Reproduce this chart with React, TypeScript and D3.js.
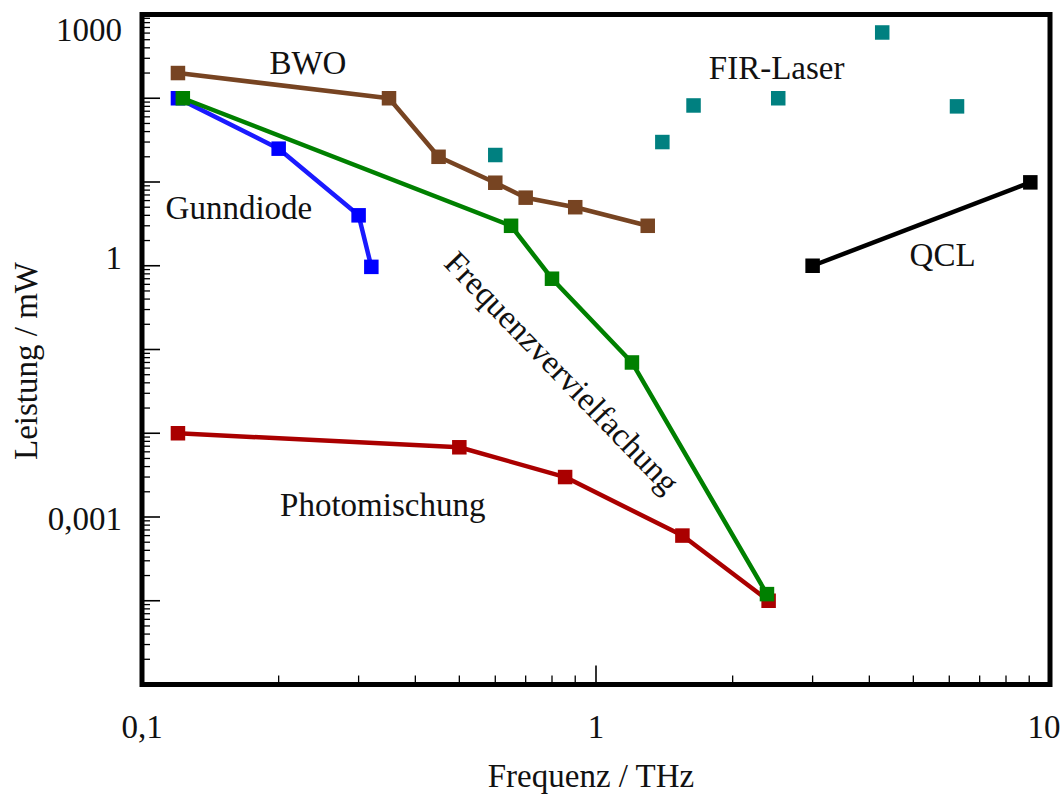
import React from "react";
import * as d3 from "d3";

// ---------- data ----------
const gunnFreq = [0.12, 0.2, 0.3, 0.32];
const gunnPower = [100, 25, 4, 0.97];

const bwoFreq = [0.12, 0.35, 0.45, 0.6, 0.7, 0.9, 1.3];
const bwoPower = [200, 100, 20, 9.8, 6.5, 5, 3];

const photoFreq = [0.12, 0.5, 0.855, 1.55, 2.4];
const photoPower = [0.01, 0.0068, 0.003, 0.0006, 0.0001];

const multFreq = [0.123, 0.65, 0.8, 1.2, 2.38];
const multPower = [100, 3, 0.7, 0.07, 0.00012];

const firFreq = [0.6, 1.4, 1.64, 2.52, 4.27, 6.24];
const firPower = [21, 30, 82, 100, 610, 80];

const qclFreq = [3, 9.05];
const qclPower = [1, 9.9];

const xTickLabels = [
  { v: 0.1, t: "0,1" },
  { v: 1, t: "1" },
  { v: 10, t: "10" },
];
const yTickLabels = [
  { v: 1000, t: "1000" },
  { v: 1, t: "1" },
  { v: 0.001, t: "0,001" },
];

// annotation anchors in data space
const annotations = [
  { t: "BWO", f: 0.232, p: 197, rot: 0 },
  { t: "Gunndiode", f: 0.1635, p: 3.57, rot: 0 },
  { t: "FIR-Laser", f: 2.5, p: 172, rot: 0 },
  { t: "QCL", f: 5.8, p: 1.0, rot: 0 },
  { t: "Photomischung", f: 0.339, p: 0.00104, rot: 0 },
  { t: "Frequenzvervielfachung", f: 0.808, p: 0.0433, rot: 46 },
];

const xTitle = "Frequenz / THz";
const yTitle = "Leistung / mW";

// ---------- layout ----------
const W = 1064;
const H = 794;
const left = 142;
const right = 1050;
const top = 14.5;
const bottom = 684.5;
const FONT = "'Liberation Serif', 'Times New Roman', serif";
const FS = 33;
const MS = 14.5;
const yLabelDy: Record<string, number> = { "1000": 26, "1": 3, "0,001": 12.5 };

export default function App() {
  const x = d3.scaleLog().domain([0.1, 10]).range([left, right]);
  const y = d3.scaleLog().domain([1e-5, 1e3]).range([bottom, top]);

  const series = [
    { fx: gunnFreq, py: gunnPower, color: "#1a1aff", mcolor: "#0000ff", line: true },
    { fx: bwoFreq, py: bwoPower, color: "#774422", mcolor: "#774422", line: true },
    { fx: photoFreq, py: photoPower, color: "#aa0000", mcolor: "#aa0000", line: true },
    { fx: multFreq, py: multPower, color: "#008000", mcolor: "#008000", line: true },
    { fx: firFreq, py: firPower, color: "#008080", mcolor: "#008080", line: false },
    { fx: qclFreq, py: qclPower, color: "#000000", mcolor: "#000000", line: true },
  ];

  const lineGen = d3
    .line<[number, number]>()
    .x((d) => x(d[0]))
    .y((d) => y(d[1]));

  // ticks
  const xMinor: number[] = [];
  for (const dec of [0.1, 1]) for (let k = 2; k <= 9; k++) xMinor.push(dec * k);
  const xMajor = [1];
  const yMinor: number[] = [];
  const yMajor: number[] = [];
  for (let e = -5; e < 3; e++) {
    const dec = Math.pow(10, e);
    if (e > -5) yMajor.push(dec);
    for (let k = 2; k <= 9; k++) yMinor.push(dec * k);
  }

  return (
    <svg width={W} height={H} style={{ display: "block", position: "absolute", left: 0, top: 0 }}>
      <rect x={0} y={0} width={W} height={H} fill="#fff" />
      {/* ticks */}
      <g stroke="#000">
        {xMinor.map((v, i) => (
          <line key={"xm" + i} x1={x(v)} x2={x(v)} y1={bottom} y2={bottom - 9} strokeWidth={1.3} />
        ))}
        {xMajor.map((v, i) => (
          <line key={"xM" + i} x1={x(v)} x2={x(v)} y1={bottom} y2={bottom - 19} strokeWidth={1.6} />
        ))}
        {yMinor.map((v, i) => (
          <line key={"ym" + i} x1={left} x2={left + 8} y1={y(v)} y2={y(v)} strokeWidth={1.3} />
        ))}
        {yMajor.map((v, i) => (
          <line key={"yM" + i} x1={left} x2={left + 18} y1={y(v)} y2={y(v)} strokeWidth={1.6} />
        ))}
      </g>

      {/* series */}
      {series.map((s, si) => {
        const pts: [number, number][] = s.fx.map((f, i) => [f, s.py[i]]);
        return (
          <g key={"s" + si}>
            {s.line && (
              <path
                d={lineGen(pts) || ""}
                fill="none"
                stroke={s.color}
                strokeWidth={4.5}
                strokeLinejoin="round"
              />
            )}
            {pts.map((p, i) => (
              <rect
                key={i}
                x={x(p[0]) - MS / 2}
                y={y(p[1]) - MS / 2}
                width={MS}
                height={MS}
                fill={s.mcolor}
              />
            ))}
          </g>
        );
      })}

      {/* frame */}
      <rect
        x={left}
        y={top}
        width={right - left}
        height={bottom - top}
        fill="none"
        stroke="#000"
        strokeWidth={5}
      />

      {/* tick labels */}
      <g fontFamily={FONT} fontSize={FS} fill="#111">
        {xTickLabels.map((d, i) => (
          <text
            key={"xl" + i}
            x={Math.min(x(d.v), W - 20)}
            y={738}
            textAnchor="middle"
          >
            {d.t}
          </text>
        ))}
        {yTickLabels.map((d, i) => (
          <text key={"yl" + i} x={122} y={y(d.v) + yLabelDy[d.t]} textAnchor="end">
            {d.t}
          </text>
        ))}
      </g>

      {/* annotations */}
      <g fontFamily={FONT} fontSize={FS} fill="#111">
        {annotations.map((a, i) => (
          <text
            key={"a" + i}
            textAnchor="middle"
            transform={`translate(${x(a.f)},${y(a.p)}) rotate(${a.rot})`}
          >
            {a.t}
          </text>
        ))}
      </g>

      {/* axis titles */}
      <g fontFamily={FONT} fontSize={FS} fill="#111">
        <text x={591} y={787} textAnchor="middle">
          {xTitle}
        </text>
        <text transform={`translate(37,361) rotate(-90)`} textAnchor="middle">
          {yTitle}
        </text>
      </g>
    </svg>
  );
}
